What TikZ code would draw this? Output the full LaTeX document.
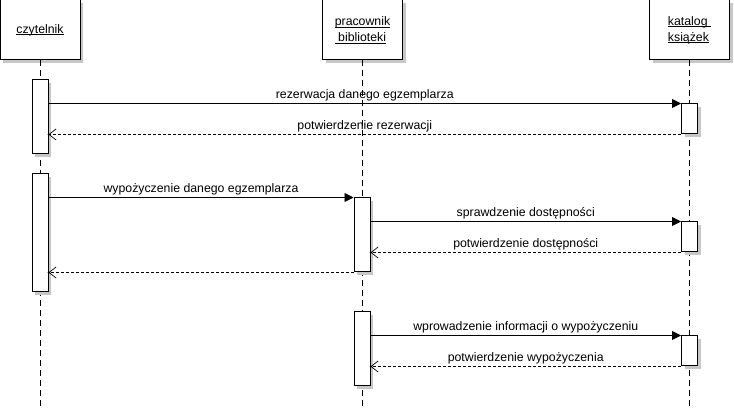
\documentclass[tikz,border=0pt]{standalone}
\usepackage{fontspec}
\setmainfont{Liberation Sans}
\usetikzlibrary{arrows.meta,shadows}
\newcommand{\myul}[1]{\setbox0\hbox{#1}\rlap{\rule[-1.8pt]{\wd0}{0.7pt}}\box0}
\begin{document}
\begin{tikzpicture}[x=1pt,y=-1pt,
  txt/.style={font=\fontsize{12.3}{16}\selectfont},
  shad/.style={drop shadow={shadow xshift=3pt,shadow yshift=-3pt,opacity=1,fill=black!22}},
  head/.style={draw, fill=white, line width=1pt, minimum width=80pt, minimum height=60pt,
               inner sep=0pt, shad, txt, align=left},
  act/.style={draw, fill=white, line width=1pt, minimum width=16pt, inner sep=0pt, shad},
  life/.style={line width=0.9pt, dash pattern=on 6pt off 4pt},
  call/.style={line width=0.9pt, -{Triangle[length=9pt,width=9pt]}},
  ret/.style={line width=0.9pt, dash pattern=on 3pt off 2pt, -{Straight Barb[length=7pt,width=11pt,line width=0.7pt]}},
  msg/.style={txt, midway, above=2.5pt, inner sep=0pt, text height=8.5pt, text depth=2.5pt},
]
\useasboundingbox (0,0) rectangle (734,411);
\coordinate (bottom) at (0,408);
% heads
\node[head] (czyt) at (40,30) {\myul{czytelnik}};
\node[head] (prac) at (362.5,30) {\myul{pracownik}\\\myul{\ biblioteki}};
\node[head] (kat) at (689.5,30) {\myul{katalog\ }\\\myul{książek}};
% lifelines
\draw[life] (czyt.south) -- (czyt.south |- bottom);
\draw[life] (prac.south) -- (prac.south |- bottom);
\draw[life] (kat.south) -- (kat.south |- bottom);
% activations
\node[act, minimum height=74pt] (c1) at (40,117) {};
\node[act, minimum height=30pt] (k1) at (689.5,119) {};
\node[act, minimum height=118pt] (c2) at (40,233) {};
\node[act, minimum height=74pt] (p1) at (362,235) {};
\node[act, minimum height=30pt] (k2) at (689.5,237) {};
\node[act, minimum height=74pt] (p2) at (362,349) {};
\node[act, minimum height=30pt] (k3) at (689.5,351) {};
% messages
\draw[call] (c1.east |- k1.north) -- (k1.north west) node[msg] (l1) {rezerwacja danego egzemplarza};
\draw[ret] (k1.south west) -- (c1.east |- k1.south) node[msg] (l2) {potwierdzenie rezerwacji};
\draw[call] (c2.east |- p1.north) -- (p1.north west) node[msg] (l3) {wypożyczenie danego egzemplarza};
\draw[call] (p1.east |- k2.north) -- (k2.north west) node[msg] (l4) {sprawdzenie dostępności};
\draw[ret] (k2.south west) -- (p1.east |- k2.south) node[msg] (l5) {potwierdzenie dostępności};
\draw[ret] (p1.south west) -- (c2.east |- p1.south);
\draw[call] (p2.east |- k3.north) -- (k3.north west) node[msg] (l7) {wprowadzenie informacji o wypożyczeniu};
\draw[ret] (k3.south west) -- (p2.east |- k3.south) node[msg] (l8) {potwierdzenie wypożyczenia};
% small dots at return tips
\fill (c1.east |- k1.south) circle (1pt);
\fill (p1.east |- k2.south) circle (1pt);
\fill (c2.east |- p1.south) circle (1pt);
\fill (p2.east |- k3.south) circle (1pt);
\end{tikzpicture}
\end{document}
